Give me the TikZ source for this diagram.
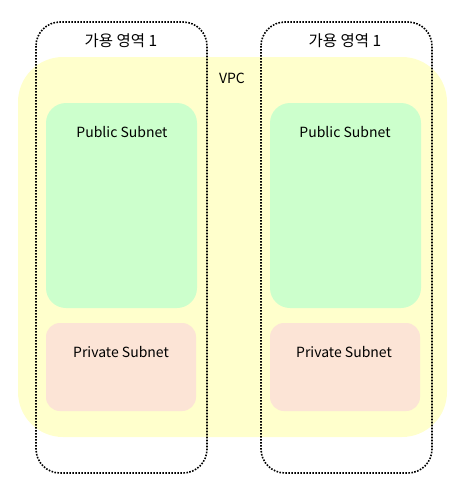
\documentclass[tikz,border=0pt]{standalone}
\usepackage{fontspec}
\setmainfont{Noto Sans CJK KR}
\definecolor{vpcfill}{HTML}{FFFFCC}
\definecolor{pubfill}{HTML}{CCFFCC}
\definecolor{privfill}{HTML}{FCE4D6}
\begin{document}
\begin{tikzpicture}[x=1pt,y=-1pt,
  lbl/.style={font=\fontsize{14}{16}\selectfont, inner sep=0pt, anchor=center},
  azlbl/.style={font=\fontsize{15.5}{18}\selectfont, inner sep=0pt, anchor=center},
  azbox/.style={draw=black, line width=1.6pt, dash pattern=on 1.6pt off 1.4pt, rounded corners=24pt},
  vpcbox/.style={fill=vpcfill, rounded corners=45pt},
  pubbox/.style={fill=pubfill, rounded corners=20pt},
  privbox/.style={fill=privfill, rounded corners=14pt}]
\useasboundingbox (0,0) rectangle (475,488);
\fill[vpcbox] (18,57) rectangle (447,437);
\node[lbl] (vpc) at (232,78) {VPC};
\fill[pubbox] (46,103) rectangle (197,308);
\fill[pubbox] (270,103) rectangle (421,308);
\fill[privbox] (46,323) rectangle (196,411);
\fill[privbox] (270,323) rectangle (420,411);
\node[lbl] (pub1) at (122,132) {Public Subnet};
\node[lbl] (pub2) at (345,132) {Public Subnet};
\node[lbl] (priv1) at (121,352) {Private Subnet};
\node[lbl] (priv2) at (344,352) {Private Subnet};
\draw[azbox] (36,22) rectangle (207,473);
\draw[azbox] (261,22) rectangle (432,473);
\node[azlbl] (az1) at (121,41) {가용 영역 1};
\node[azlbl] (az2) at (345,41) {가용 영역 1};
\end{tikzpicture}
\end{document}
